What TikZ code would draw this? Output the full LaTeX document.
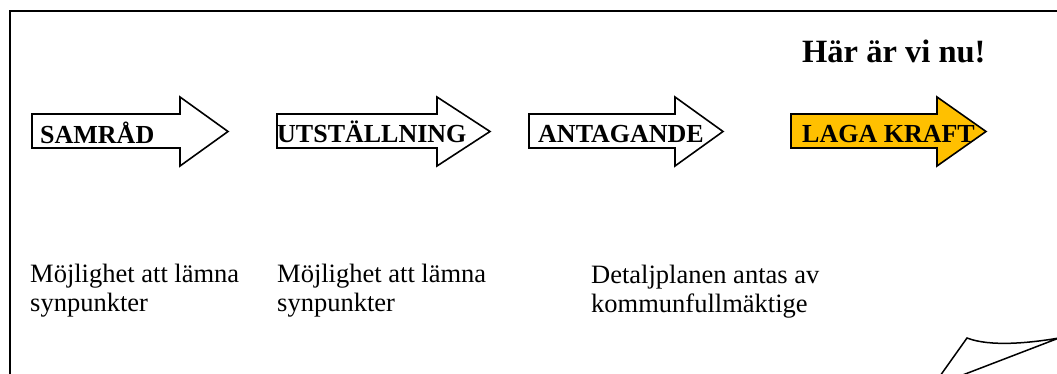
\documentclass[tikz,border=0pt]{standalone}
\usepackage{fontspec}
\setmainfont{Liberation Serif}
\definecolor{lagagul}{HTML}{FFC000}

\begin{document}
\begin{tikzpicture}[x=1pt, y=-1pt,
    phase/.style ={draw, line width=1.6pt, line join=miter, fill=white},
    phaselabel/.style ={anchor=base west, inner sep=0pt, font=\fontsize{26}{29}\selectfont\bfseries},
    notering/.style ={anchor=base west, inner sep=0pt, align=left, font=\fontsize{26.5}{29}\selectfont}]
   \useasboundingbox (0,0) rectangle (1057,374);
   \draw[line width=2pt] (10,374) -- (10,11) -- (1057,11);

   \draw[phase] (32,114) -- (180,114) -- (180,97) -- (228,131.5) -- (180,166) -- (180,148) -- (32,148) -- cycle;
   \draw[phase] (277,114) -- (437,114) -- (437,97) -- (490,131.5) -- (437,166) -- (437,148) -- (277,148) -- cycle;
   \draw[phase] (529,114) -- (675,114) -- (675,97) -- (723,131.5) -- (675,166) -- (675,148) -- (529,148) -- cycle;
   \draw[phase, fill=lagagul] (791,114) -- (937,114) -- (937,97) -- (986,131.5) -- (937,166) -- (937,148) -- (791,148) -- cycle;

   \node[phaselabel] (samrad)  at (40,144)  {SAMRÅD};
   \node[phaselabel] (utst)    at (277,143) {UTSTÄLLNING};
   \node[phaselabel] (antag)   at (538,143) {ANTAGANDE};
   \node[phaselabel] (laga)    at (802,143) {LAGA KRAFT};

   \node[anchor=base west, inner sep=0pt, font=\fontsize{32.5}{36}\selectfont\bfseries] (nu) at (802,63) {Här är vi nu!};

   \node[notering] (samradtxt) at (30,311)  {Möjlighet att lämna\\synpunkter};
   \node[notering] (utsttxt)   at (277,311) {Möjlighet att lämna\\synpunkter};
   \node[notering] (antagtxt)  at (591,312) {Detaljplanen antas av\\kommunfullmäktige};

   % vikt hörn
   \draw[line width=1.5pt] (940,376) -- (967,338) .. controls (990,347) and (1030,343) .. (1059,338) -- (960,376);
 \end{tikzpicture}
\end{document}
